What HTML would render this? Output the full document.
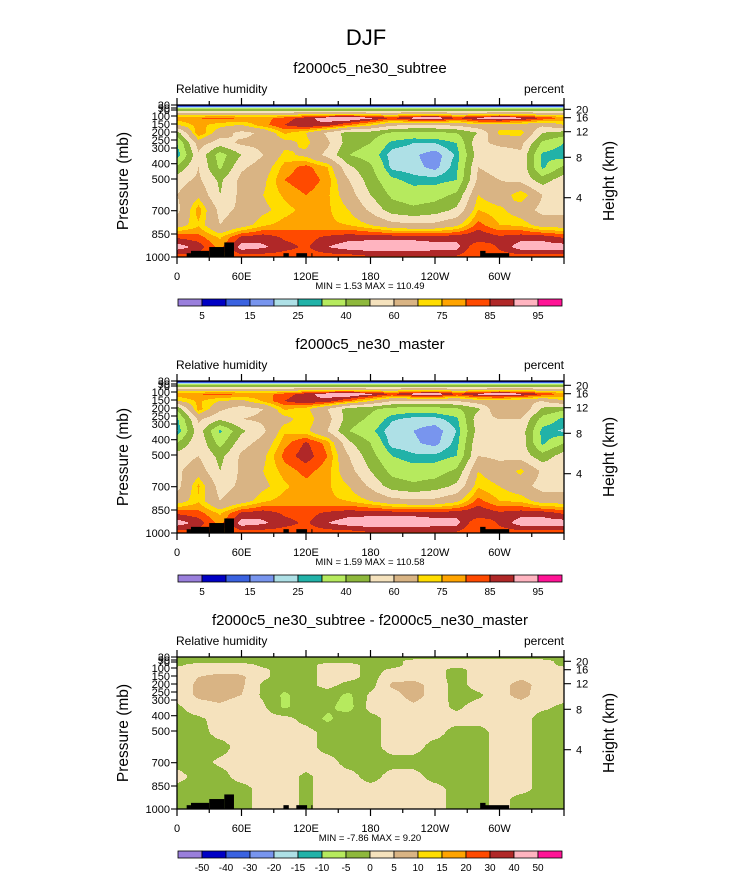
<!DOCTYPE html>
<html><head><meta charset="utf-8">
<style>
html,body{margin:0;padding:0;background:#fff;}
#wrap{position:relative;width:733px;height:873px;overflow:hidden;font-family:"Liberation Sans",Arial,sans-serif;}
canvas{position:absolute;left:177px;image-rendering:pixelated;}
svg{position:absolute;left:0;top:0;}
</style></head>
<body>
<div id="wrap">
<canvas id="c0" width="387" height="152" style="top:105px"></canvas>
<canvas id="c1" width="387" height="152" style="top:381px"></canvas>
<canvas id="c2" width="387" height="152" style="top:657px"></canvas>
<svg id="ov" width="733" height="873"></svg>
</div>
<script>
// ---- data ----
const lons = [0,20,40,60,80,100,120,140,160,180,200,220,240,260,280,300,320,340,360];
const levelsRH = [5,10,15,20,25,30,40,50,60,70,75,80,85,90,95];
const levelsDiff = [-50,-40,-30,-20,-15,-10,-5,0,5,10,15,20,30,40,50];
const labelsRH = ["5","15","25","40","60","75","85","95"];
const labelsDiff = ["-50","-40","-30","-20","-15","-10","-5","0","5","10","15","20","30","40","50"];
const pressTicks = [30,50,70,100,150,200,250,300,400,500,700,850,1000];
const heightTicks = [20,16,12,8,4];
const lonLabels = ["0","60E","120E","180","120W","60W"];
const rhSubtree = [
[7,7,7,7,7,7,7,7,7,7,7,7,7,7,7,7,7,7,7],
[40,40,40,40,40,40,40,40,40,40,40,40,40,40,40,40,40,40,40],
[62,62,62,62,62,62,64,66,66,62,62,64,64,62,62,64,64,62,62],
[78,80,82,80,78,82,88,93,96,92,85,93,96,85,92,96,92,85,78],
[70,77,72,70,78,85,90,88,80,72,62,60,60,62,68,66,66,62,70],
[45,80,65,57,62,76,70,58,45,45,38,36,37,40,50,72,73,50,45],
[30,65,55,62,63,67,72,62,45,40,28,25,25,30,58,62,63,38,30],
[25,58,35,50,60,72,68,57,40,35,22,21,17,26,55,55,58,28,25],
[42,60,38,58,65,77,82,75,52,42,23,22,18,28,60,58,58,28,42],
[56,62,48,63,68,80,84,78,60,45,32,27,27,30,62,60,57,45,56],
[60,68,50,63,70,76,80,76,65,50,38,35,36,42,70,64,75,60,60],
[57,78,57,62,68,73,77,76,70,58,45,42,45,52,75,72,65,57,57],
[66,74,60,66,74,77,78,76,75,70,64,62,63,68,82,75,74,66,66],
[84,82,74,86,88,84,83,86,88,88,88,88,87,88,90,86,88,88,84],
[93,88,78,93,91,87,84,90,93,94,94,94,93,92,80,86,93,93,93],
[82,82,78,82,82,82,82,82,82,84,84,84,84,84,80,82,82,82,82]];
const rhMaster = [
[7,7,7,7,7,7,7,7,7,7,7,7,7,7,7,7,7,7,7],
[40,40,40,40,40,40,40,40,40,40,40,40,40,40,40,40,40,40,40],
[62,62,62,62,62,62,64,66,66,62,62,64,64,62,62,64,64,62,62],
[78,80,82,80,78,82,88,93,96,92,85,93,96,85,92,96,92,85,78],
[70,76,70,68,76,85,90,88,80,70,60,58,58,60,66,65,64,60,70],
[42,78,62,55,60,76,72,60,45,42,36,34,35,38,48,70,70,48,42],
[28,62,52,60,62,67,74,64,45,38,26,23,23,28,56,60,60,36,28],
[24,56,28,48,58,74,72,60,40,32,21,20,17,25,54,54,56,27,24],
[40,58,36,56,64,78,86,78,52,40,22,21,18,27,58,56,56,28,40],
[55,60,47,62,68,82,88,80,60,44,30,26,26,30,60,58,56,44,55],
[58,66,50,62,70,77,82,77,64,50,37,34,35,42,70,64,72,58,58],
[56,76,56,62,68,74,78,76,70,58,45,42,45,52,74,70,64,56,56],
[66,74,60,66,74,77,78,76,75,70,64,62,63,68,82,75,74,66,66],
[84,82,74,86,88,84,83,86,88,88,88,88,87,88,90,86,88,88,84],
[93,88,78,93,91,87,84,90,93,94,94,94,93,92,80,86,93,93,93],
[82,82,78,82,82,82,82,82,82,84,84,84,84,84,80,82,82,82,82]];
const rhDiff = [
[-2,-2,-2,-2,-2,-2,-2,-2,-2,-2,-2,-2,-2,-2,-2,-2,-2,-2,-2],
[-2,-2,-2,-2,-2,-2,-2,-2,-2,-2,-2,2,2,2,2,2,2,2,-2],
[-1,2,2,2,-1,-2,-2,2,2,-2,-2,2,2,2,2,2,2,2,-1],
[2,2,3,3,1,-2,-2,2,2,-2,1,2,2,-2,2,2,2,2,2],
[2,5,7,6,1,-2,-2,2,2,-2,3,3,2,-2,2,2,4,3,2],
[2,6,8,6,-1,-3,-2,2,-2,-2,6,7,3,-2,2,3,7,3,2],
[2,6,7,5,-1,-6,-2,-3,-6,1,3,7,3,-2,-1,3,7,2,2],
[-1,3,4,2,1,-6,-2,-4,-7,2,2,4,2,-1,2,2,2,1,-1],
[-2,-1,2,2,2,2,-2,-6,-2,-2,2,2,2,2,2,2,2,-2,-2],
[-2,-2,2,2,2,2,2,-2,-3,-2,2,2,2,-2,-2,2,2,-2,-5],
[-2,-2,-2,2,2,2,2,-2,-2,-2,2,2,-2,-2,-2,2,2,-2,-2],
[-2,-2,1,2,2,2,2,2,-2,-2,-2,-2,-2,-2,-2,2,2,-2,-2],
[2,-2,-2,2,2,2,-1,2,2,-2,2,2,-2,-2,-2,2,2,-2,-2],
[-2,-2,-2,-2,2,2,-1,2,2,2,2,2,2,-2,-2,2,2,-2,-2],
[-2,-2,-2,-2,2,2,-1,2,2,2,2,2,2,-2,-2,2,-2,-2,-2],
[-2,-2,-2,-2,2,2,-1,2,2,2,2,2,2,-2,-2,2,-2,-2,-2]];
// topography (lon start, lon end, pressure top) blocks
const topoLon0 = [9,13,30,44,99,111,125,282,286];
const topoLon1 = [13,30,44,53,104,121,126,287,309];
const topoP = [975,960,935,905,975,975,975,960,975];

// ---- layout ----
const colors = ["#9a7fdc","#0000c4","#3a62e0","#7895ee","#aee0e6","#22b2a8","#b6ea5e","#8eb83c","#f5e2bd","#d9b484","#ffdd00","#ffa400","#ff4a00","#b02828","#ffb4c0","#ff1496"];
const PX0=177, PW=387, PH=152;
const panelTop=[105,381,657];
const rowOff=[1,4,8,13,20,28,38,50,62,75,90,105,120,132,142,152];
const pY={30:0,50:3,70:5,100:11,150:19,200:27,250:35,300:43,400:58.7,500:74,700:105.7,850:129,1000:152};
const hY={20:4.3,16:12.7,12:26.7,8:52.3,4:92.7};
function xOf(lon){return PX0+lon*PW/360;}
function pOff(p){
  const ks=pressTicks; if(p<=ks[0])return 0;
  for(let i=0;i<ks.length-1;i++){ if(p>=ks[i]&&p<=ks[i+1]){const t=(p-ks[i])/(ks[i+1]-ks[i]);return pY[ks[i]]+t*(pY[ks[i+1]]-pY[ks[i]]);} }
  return PH;
}
function colorIdx(v,lv){let i=0;while(i<lv.length&&v>=lv[i])i++;return i;}
function hex(h){return [parseInt(h.substr(1,2),16),parseInt(h.substr(3,2),16),parseInt(h.substr(5,2),16)];}
const rgb=colors.map(hex);
function drawField(id,grid,lv){
  const cv=document.getElementById(id),ctx=cv.getContext('2d');
  const img=ctx.createImageData(PW,PH);
  for(let y=0;y<PH;y++){
    const yy=y+0.5; let r=0;
    while(r<rowOff.length-2&&yy>rowOff[r+1])r++;
    let ty=(yy-rowOff[r])/(rowOff[r+1]-rowOff[r]); ty=Math.max(0,Math.min(1,ty));
    for(let x=0;x<PW;x++){
      const lf=(x+0.5)/PW*(lons.length-1); let c=Math.min(lons.length-2,Math.floor(lf)); const tx=lf-c;
      const v=(grid[r][c]*(1-tx)+grid[r][c+1]*tx)*(1-ty)+(grid[r+1][c]*(1-tx)+grid[r+1][c+1]*tx)*ty;
      const k=rgb[colorIdx(v,lv)]; const o=(y*PW+x)*4;
      img.data[o]=k[0];img.data[o+1]=k[1];img.data[o+2]=k[2];img.data[o+3]=255;
    }
  }
  ctx.putImageData(img,0,0);
}
drawField('c0',rhSubtree,levelsRH);
drawField('c1',rhMaster,levelsRH);
drawField('c2',rhDiff,levelsDiff);

const NS="http://www.w3.org/2000/svg", svg=document.getElementById('ov');
function el(tag,at,parent){const e=document.createElementNS(NS,tag);for(const k in at)e.setAttribute(k,at[k]);(parent||svg).appendChild(e);return e;}
function txt(x,y,s,size,anchor,parent,extra){const t=el('text',Object.assign({x:x,y:y,'font-size':size,'text-anchor':anchor||'start','font-family':'Liberation Sans, Arial, sans-serif',fill:'#000'},extra||{}),parent);t.textContent=s;return t;}

const main=txt(366,45,"DJF",22,'middle');


const titles=["f2000c5_ne30_subtree","f2000c5_ne30_master","f2000c5_ne30_subtree - f2000c5_ne30_master"];
const minmax=["MIN =   1.53  MAX = 110.49","MIN =   1.59  MAX = 110.58","MIN =  -7.86  MAX =   9.20"];
for(let p=0;p<3;p++){
  const T=panelTop[p], B=T+PH, R=PX0+PW;
  const g=el('g',{});
  
  
  const t=txt(370,T-32,titles[p],15,'middle',g);
  
  
  const l=txt(176,T-12,"Relative humidity",12,'start',g);
  
  
  const u=txt(564,T-12,"percent",12,'end',g);
  
  
  for(let i=0;i<topoLon0.length;i++){
    const r=el('rect',{x:xOf(topoLon0[i]),y:T+pOff(topoP[i]),width:xOf(topoLon1[i])-xOf(topoLon0[i]),height:B-T-pOff(topoP[i]),fill:'#000'},g);
    
    
  }
  el('rect',{x:PX0,y:T,width:PW,height:PH,fill:'none',stroke:'#000','stroke-width':1.3},g);
  for(let lon=0;lon<=360;lon+=30){
    const x=xOf(lon);
    el('line',{x1:x,y1:T,x2:x,y2:T-(lon%60?4:7),stroke:'#000','stroke-width':1.2},g);
    el('line',{x1:x,y1:B,x2:x,y2:B+(lon%60?4:7),stroke:'#000','stroke-width':1.2},g);
  }
  lonLabels.forEach((s,i)=>{const tl=txt(xOf(i*60),B+23,s,11,'middle',g);
    
    });
  pressTicks.forEach(pr=>{
    const y=T+pY[pr];
    el('line',{x1:PX0,y1:y,x2:PX0-6,y2:y,stroke:'#000','stroke-width':1.1},g);
    const tl=txt(170,y+4,String(pr),11,'end',g);
    
    
  });
  heightTicks.forEach(h=>{
    const y=T+hY[h];
    el('line',{x1:R,y1:y,x2:R+7,y2:y,stroke:'#000','stroke-width':1.1},g);
    const tl=txt(576,y+4,String(h),11,'start',g);
    
    
  });
  const ya=txt(0,0,"Pressure (mb)",15.5,'middle',g,{transform:`translate(128,${T+76}) rotate(-90)`});
  
  
  const yb=txt(0,0,"Height (km)",15.5,'middle',g,{transform:`translate(614,${T+76}) rotate(-90)`});
  
  
  const mm=txt(370,B+32,minmax[p],9.5,'middle',g);
  
  
  const cy=T+194, cw=24;
  const cb=el('g',{},g);
  
  
  colors.forEach((c,i)=>{const r=el('rect',{x:178+i*cw,y:cy,width:cw,height:7,fill:c,stroke:'#000','stroke-width':0.8},cb);
    
    });
  const labs=p<2?labelsRH:labelsDiff, step=p<2?2:1;
  labs.forEach((s,i)=>{const tl=txt(178+(1+i*step)*cw,cy+20,s,10,'middle',cb);
    
    });
}
</script>
</body></html>
